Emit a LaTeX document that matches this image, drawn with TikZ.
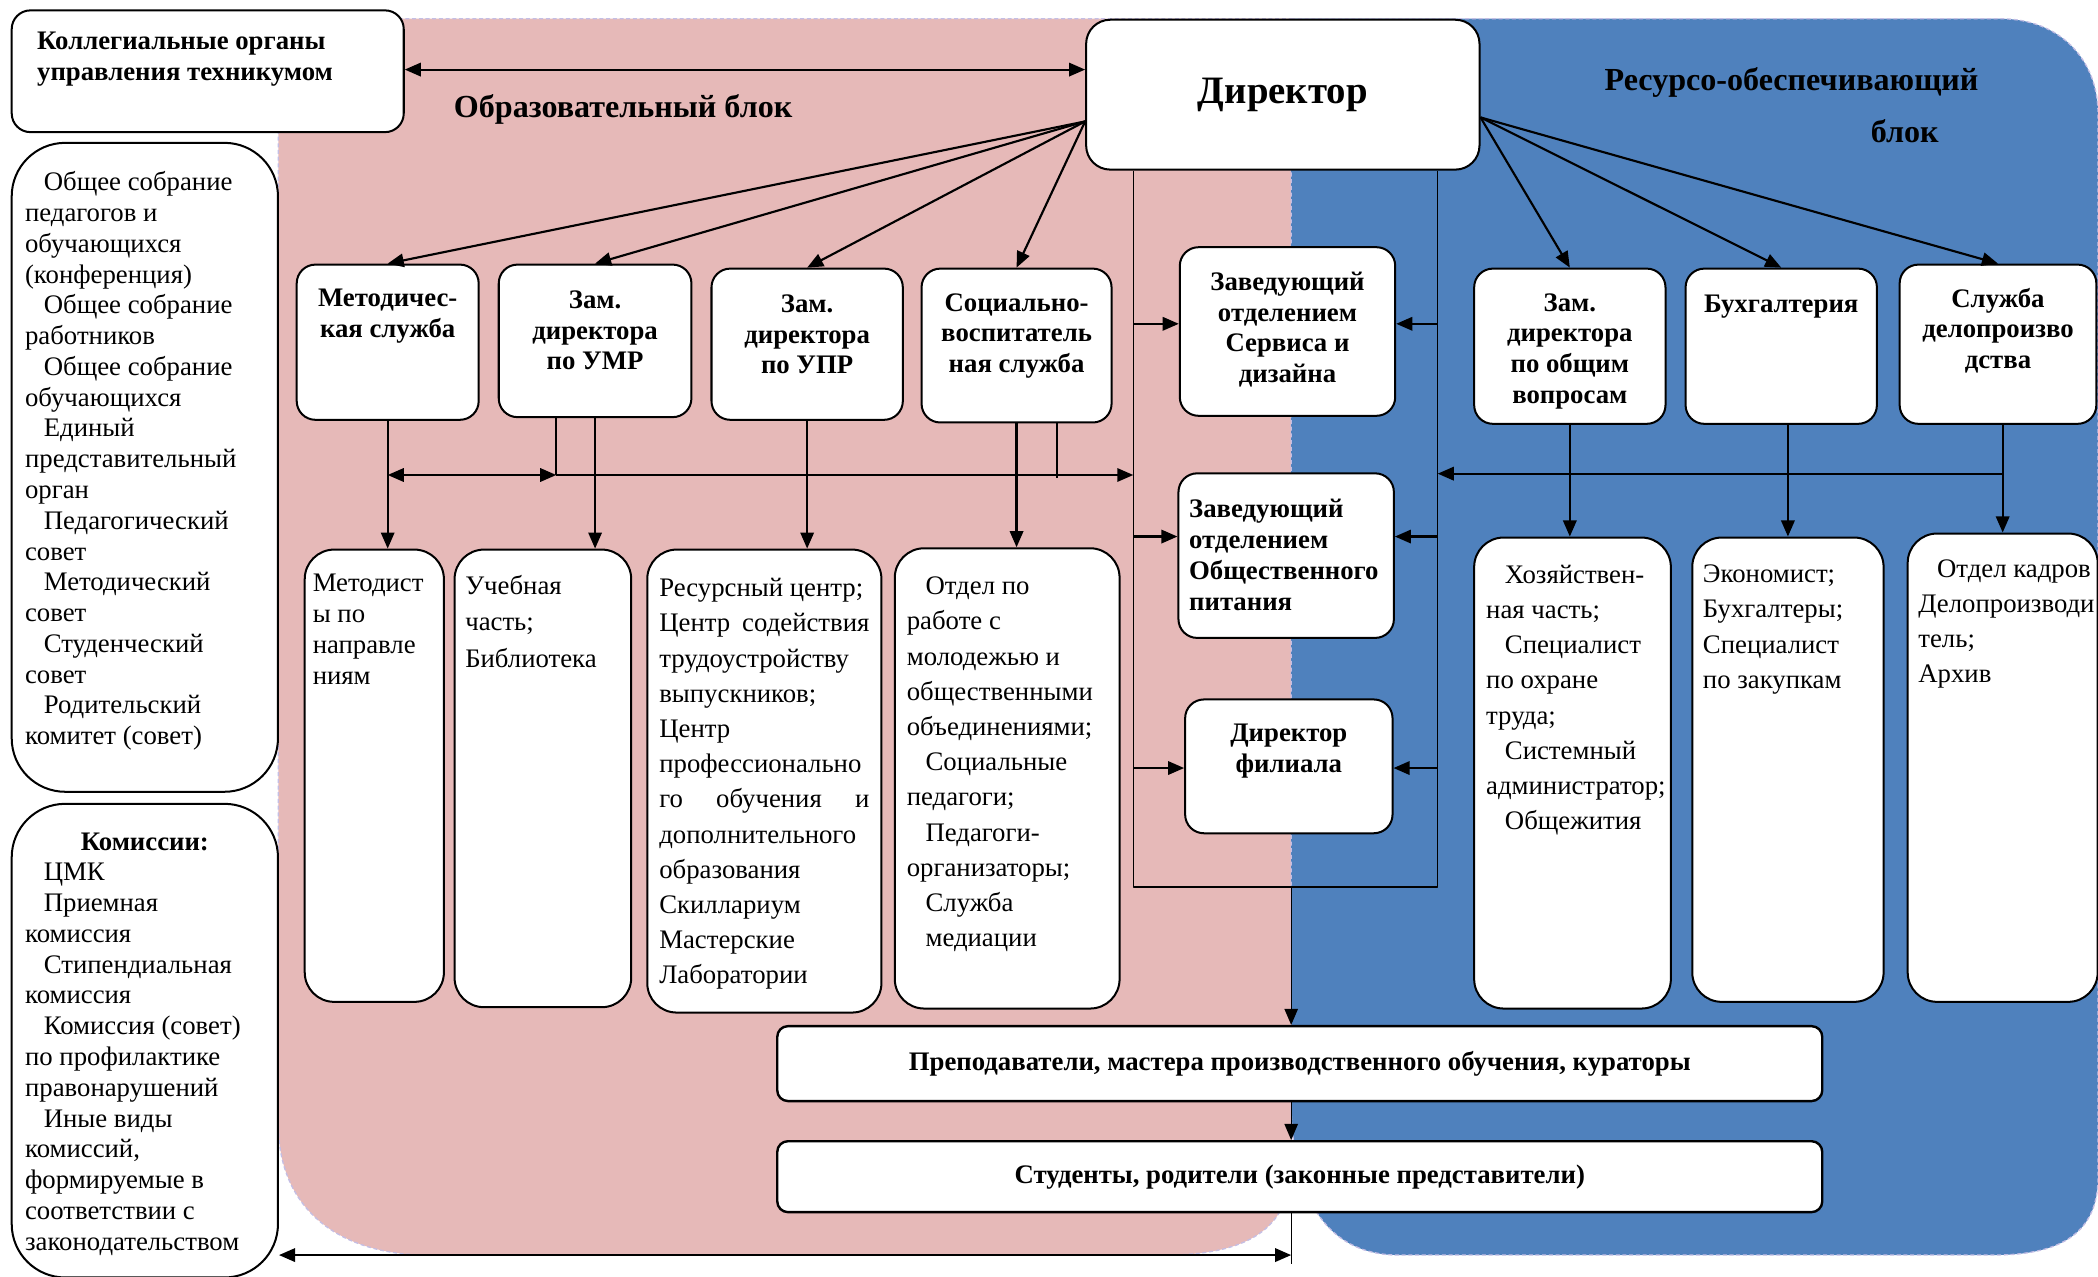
\documentclass[tikz,border=0pt]{standalone}
\usepackage{fontspec}
\setmainfont{Liberation Serif}
\usepackage{tikz}
\usetikzlibrary{arrows.meta,calc}

\definecolor{edupink}{RGB}{230,185,184}
\definecolor{resblue}{RGB}{79,129,189}
\definecolor{seam}{RGB}{196,190,228}

% text block pinned to the top of a box: width, height, top gap, text
\newcommand{\boxtext}[4]{\parbox[c][#2pt][t]{#1pt}{\vspace*{#3pt}#4}}

\tikzset{
  headbox/.style={draw, line width=1.5pt, fill=white, rounded corners=14pt,
    anchor=north west, inner xsep=6pt, inner ysep=0pt,
    font=\bfseries\fontsize{20}{23}\selectfont},
  listbox/.style={draw, line width=1.5pt, fill=white, rounded corners=22pt,
    anchor=north west, inner xsep=8pt, inner ysep=0pt,
    font=\fontsize{20}{26.3}\selectfont},
  sidebox/.style={draw, line width=1.5pt, fill=white, rounded corners=40pt,
    anchor=north west, inner xsep=10pt, inner ysep=0pt,
    font=\fontsize{20}{23}\selectfont},
  widebox/.style={draw, line width=1.8pt, fill=white, rounded corners=8pt,
    anchor=north west, minimum width=781pt, inner sep=0pt,
    font=\bfseries\fontsize{20}{23}\selectfont},
  blocktitle/.style={anchor=west, inner sep=0pt,
    font=\bfseries\fontsize{24}{28}\selectfont},
  region/.style={draw=seam, dash pattern=on 3pt off 2pt, line width=1pt},
  link/.style={line width=1.6pt},
  bus/.style={line width=1pt},
}

\begin{document}
\begin{tikzpicture}[x=1pt,y=-1pt,>={Triangle[length=12pt,width=10pt]},line join=round]
	\useasboundingbox (0,0) rectangle (1568,954);

	% the two blocks
	\path[region, fill=edupink] (298,14) -- (965,14) -- (965,870)
		.. controls (965,920) and (930,938) .. (870,938) -- (320,938)
		.. controls (255,938) and (208,905) .. (208,840) -- (208,104)
		.. controls (208,50) and (245,14) .. (298,14) -- cycle;
	\path[region, fill=resblue] (965,14) -- (1495,14)
		.. controls (1540,14) and (1568,45) .. (1568,85) -- (1568,880)
		.. controls (1568,925) and (1535,938) .. (1490,938) -- (1045,938)
		.. controls (995,938) and (967,900) .. (965,830) -- cycle;

	\node[blocktitle] (edutitle) at (339,82) {Образовательный блок};
	\node[blocktitle] (restitle) at (1199,62) {Ресурсо-обеспечивающий};
	\node[blocktitle] (restitle2) at (1398,98) {блок};

	% left column
	\node[headbox, inner xsep=19pt] (koll) at (8,7) {\boxtext{255}{91}{16.5}{%
		Коллегиальные органы\\
		управления техникумом}};
	\node[sidebox] (obsh) at (8,106) {\boxtext{179}{485}{21.5}{%
		\hspace*{14pt}Общее собрание\\
		педагогов и\\
		обучающихся\\
		(конференция)\\
		\hspace*{14pt}Общее собрание\\
		работников\\
		\hspace*{14pt}Общее собрание\\
		обучающихся\\
		\hspace*{14pt}Единый\\
		представительный\\
		орган\\
		\hspace*{14pt}Педагогический\\
		совет\\
		\hspace*{14pt}Методический\\
		совет\\
		\hspace*{14pt}Студенческий\\
		совет\\
		\hspace*{14pt}Родительский\\
		комитет (совет)}};
	\node[sidebox] (komis) at (8,600) {\boxtext{179}{354}{21.5}{%
		{\centering\textbf{Комиссии:}\par}
		\hspace*{14pt}ЦМК\\
		\hspace*{14pt}Приемная\\
		комиссия\\
		\hspace*{14pt}Стипендиальная\\
		комиссия\\
		\hspace*{14pt}Комиссия (совет)\\
		по профилактике\\
		правонарушений\\
		\hspace*{14pt}Иные виды\\
		комиссий,\\
		формируемые в\\
		соответствии с\\
		законодательством}};

	% director
	\node[headbox, rounded corners=18pt, minimum width=294pt, minimum height=112pt,
		font=\bfseries\fontsize{29}{34}\selectfont] (dir) at (811,14) {Директор};

	% first row
	\node[headbox] (metod) at (221,197) {\boxtext{124}{116}{18.5}{\centering
		Методичес-\\кая служба}};
	\node[headbox] (umr) at (372,197) {\boxtext{132}{114}{19.5}{\centering
		Зам.\\директора\\по УМР}};
	\node[headbox] (upr) at (531,200) {\boxtext{131}{113}{19.5}{\centering
		Зам.\\директора\\по УПР}};
	\node[headbox] (soc) at (688,200) {\boxtext{130}{115}{18.5}{\centering
		Социально-\\воспитатель\\ная служба}};
	\node[headbox] (serv) at (881,184) {\boxtext{149}{126}{18.5}{\centering
		Заведующий\\отделением\\Сервиса и\\дизайна}};
	\node[headbox] (zam) at (1101,200) {\boxtext{131}{116}{18.5}{\centering
		Зам.\\директора\\по общим\\вопросам}};
	\node[headbox] (buh) at (1259,200) {\boxtext{131}{116}{19.5}{\centering
		Бухгалтерия}};
	\node[headbox] (sluzh) at (1419,197) {\boxtext{135}{119}{17.5}{\centering
		Служба\\делопроизво\\дства}};

	% middle column
	\node[headbox, inner xsep=8pt] (pit) at (880,353) {\boxtext{145}{123}{19.5}{%
		Заведующий\\отделением\\Общественного\\питания}};
	\node[headbox] (fil) at (885,522) {\boxtext{143}{100}{18.5}{\centering
		Директор\\филиала}};

	% second row
	\node[listbox, inner xsep=6pt, font=\fontsize{20}{23}\selectfont] (metodisty) at (227,410)
		{\boxtext{92}{338}{18.5}{%
		Методист\\ы по\\направле\\ниям}};
	\node[listbox, font=\fontsize{20}{27}\selectfont] (ucheb) at (339,410)
		{\boxtext{116}{342}{19.5}{%
		Учебная\\часть;\\Библиотека}};
	\node[listbox, inner xsep=9pt] (resurs) at (483,410) {\boxtext{157}{346}{21.5}{%
		Ресурсный центр;\\
		Центр\hfill содействия\\
		трудоустройству\\
		выпускников;\\
		Центр\\
		профессионально\\
		го\hfill обучения\hfill и\\
		дополнительного\\
		образования\\
		Скиллариум\\
		Мастерские\\
		Лаборатории}};
	\node[listbox, inner xsep=9pt] (otdel) at (668,409) {\boxtext{150}{344}{21.5}{%
		\hspace*{14pt}Отдел по\\
		работе с\\
		молодежью и\\
		общественными\\
		объединениями;\\
		\hspace*{14pt}Социальные\\
		педагоги;\\
		\hspace*{14pt}Педагоги-\\
		организаторы;\\
		\hspace*{14pt}Служба\\
		\hspace*{14pt}медиации}};
	\node[listbox, inner xsep=9pt] (hoz) at (1101,401) {\boxtext{129}{352}{20.5}{%
		\hspace*{14pt}Хозяйствен-\\
		ная часть;\\
		\hspace*{14pt}Специалист\\
		по охране\\
		труда;\\
		\hspace*{14pt}Системный\\
		администратор;\\
		\hspace*{14pt}Общежития}};
	\node[listbox] (econ) at (1264,401) {\boxtext{127}{347}{20.5}{%
		Экономист;\\Бухгалтеры;\\Специалист\\по закупкам}};
	\node[listbox] (kadr) at (1425,398) {\boxtext{126}{350}{19.5}{%
		\hspace*{14pt}\mbox{Отдел кадров}\\Делопроизводи\\тель;\\Архив}};

	% bottom
	\node[widebox, minimum height=56pt] (prep) at (580,766)
		{Преподаватели, мастера производственного обучения, кураторы};
	\node[widebox, minimum height=53pt] (stud) at (580,852)
		{Студенты, родители (законные представители)};

	% helper points
	\coordinate (dirL) at ($(dir.west)+(0,20)$);
	\coordinate (dirR) at ($(dir.east)+(0,17)$);
	\coordinate (lbus) at ($(dir.south west)+(36,0)$);
	\coordinate (rbus) at ($(dir.south east)+(-32,0)$);
	\coordinate (mid) at (965,663);
	\coordinate (edurow) at (0,355);
	\coordinate (resrow) at (0,354);

	\draw[link,<->] (koll.east |- 0,52) -- (dir.west |- 0,52);

	\draw[link] (dirL) edge[->] (metod.north)
		(dirL) edge[->] (umr.north)
		(dirL) edge[->] (upr.north)
		(dirL) edge[->] (soc.north)
		(dirR) edge[->] (zam.north)
		(dirR) edge[->] (buh.north)
		(dirR) edge[->] (sluzh.north);

	% educational block links
	\draw[link,->] (metod.south) -- (metod.south |- metodisty.north);
	\draw[link,->] (umr.south) -- (umr.south |- ucheb.north);
	\draw[link] ($(umr.south)+(-29,0)$) coordinate (umrL) -- (umrL |- edurow);
	\draw[link,->] (upr.south) -- (upr.south |- resurs.north);
	\draw[link,->] (soc.south) -- (soc.south |- otdel.north);
	\draw[link] ($(soc.south)+(30,0)$) coordinate (socR) -- ($(socR |- edurow)+(0,2)$);
	\draw[link,<->] (metod.south |- edurow) -- (umrL |- edurow);
	\draw[link,->] (umrL |- edurow) -- (lbus |- edurow);

	% buses under the director
	\draw[bus] (lbus) -- (lbus |- mid) -- (rbus |- mid) -- (rbus);
	\draw[link,->] (lbus |- 0,242) -- (serv.west |- 0,242);
	\draw[link,->] (lbus |- 0,401) -- (pit.west |- 0,401);
	\draw[link,->] (lbus |- 0,574) -- (fil.west |- 0,574);
	\draw[link,->] (rbus |- 0,242) -- (serv.east |- 0,242);
	\draw[link,->] (rbus |- 0,401) -- (pit.east |- 0,401);
	\draw[link,->] (rbus |- 0,574) -- (fil.east |- 0,574);

	% resource block links
	\draw[link,->] (zam.south) -- (zam.south |- hoz.north);
	\draw[link,->] (econ.north |- buh.south) -- (econ.north);
	\draw[link,->] (kadr.north |- sluzh.south) -- (kadr.north);
	\draw[link,->] (kadr.north |- resrow) -- (rbus |- resrow);

	% down to teachers and students
	\draw[bus,->] (mid) -- (mid |- prep.north);
	\draw[bus,->] (prep.south -| mid) -- (stud.north -| mid);
	\draw[bus] (stud.south -| mid) -- ++(0,38);
	\draw[link,<->] (komis.east |- 0,938) -- (mid |- 0,938);
\end{tikzpicture}
\end{document}
